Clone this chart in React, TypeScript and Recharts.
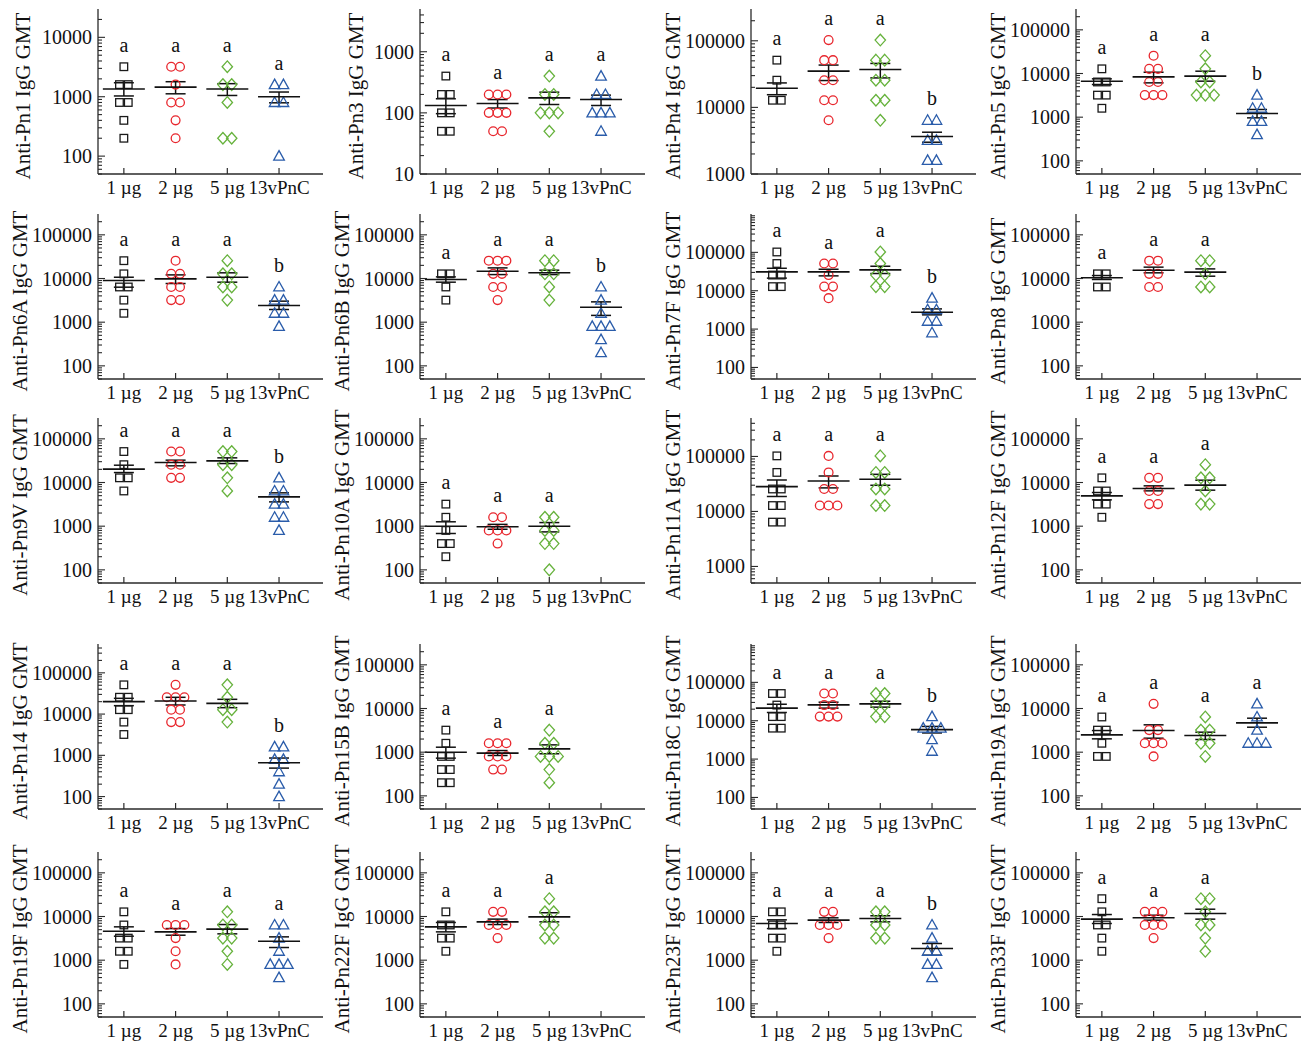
import React from 'react';
import { ScatterChart, Scatter, XAxis, YAxis, ErrorBar } from 'recharts';

// ---------- categories & styling ----------
const groupLabels = ['1 µg', '2 µg', '5 µg', '13vPnC'];
const groupColors = ['#1a1a1a', '#e8262d', '#66b23c', '#2a5caa'];
const groupShapes = ['square', 'circle', 'diamond', 'triangle'];

// ---------- data (titers) ----------
const pn1Titers = [[3200, 1600, 1600, 800, 800, 400, 200], [3200, 3200, 1600, 800, 800, 400, 200], [3200, 1600, 1600, 800, 200, 200], [1600, 1600, 800, 800, 100]];
const pn1Means = [1350, 1450, 1350, 1000];
const pn1SeLow = [1030, 1120, 1050, 790];
const pn1SeHigh = [1720, 1790, 1660, 1200];
const pn1Letters = ['a', 'a', 'a', 'a'];
const pn1Domain = [50, 30000];
const pn1Ticks = [100, 1000, 10000];

const pn3Titers = [[400, 200, 200, 100, 100, 50, 50], [200, 200, 200, 100, 100, 100, 50, 50], [400, 200, 200, 100, 100, 100, 50], [400, 200, 200, 100, 100, 100, 50]];
const pn3Means = [132, 142, 176, 165];
const pn3SeLow = [97, 120, 137, 132];
const pn3SeHigh = [170, 165, 218, 195];
const pn3Letters = ['a', 'a', 'a', 'a'];
const pn3Domain = [10, 5000];
const pn3Ticks = [10, 100, 1000];

const pn4Titers = [[51200, 25600, 12800, 12800], [102400, 51200, 51200, 25600, 25600, 12800, 12800, 6400], [102400, 51200, 51200, 25600, 25600, 12800, 12800, 6400], [6400, 6400, 3200, 3200, 1600, 1600]];
const pn4Means = [19400, 35000, 37000, 3650];
const pn4SeLow = [15500, 25300, 27700, 3000];
const pn4SeHigh = [23300, 43200, 45700, 4240];
const pn4Letters = ['a', 'a', 'a', 'b'];
const pn4Domain = [1000, 300000];
const pn4Ticks = [1000, 10000, 100000];

const pn5Titers = [[12800, 6400, 6400, 3200, 3200, 1600], [25600, 12800, 12800, 6400, 6400, 3200, 3200, 3200], [25600, 12800, 6400, 6400, 3200, 3200, 3200], [3200, 1600, 1600, 800, 800, 400]];
const pn5Means = [6670, 8390, 8690, 1210];
const pn5SeLow = [5600, 6110, 6680, 965];
const pn5SeHigh = [7550, 10700, 11300, 1500];
const pn5Letters = ['a', 'a', 'a', 'b'];
const pn5Domain = [50, 300000];
const pn5Ticks = [100, 1000, 10000, 100000];

const pn6ATiters = [[25600, 12800, 6400, 6400, 3200, 1600], [25600, 12800, 12800, 6400, 6400, 3200, 3200], [25600, 12800, 12800, 6400, 6400, 3200], [6400, 3200, 3200, 1600, 1600, 800]];
const pn6AMeans = [9000, 9800, 10700, 2410];
const pn6ASeLow = [6330, 7680, 8240, 1950];
const pn6ASeHigh = [10700, 12100, 13500, 3030];
const pn6ALetters = ['a', 'a', 'a', 'b'];
const pn6ADomain = [50, 300000];
const pn6ATicks = [100, 1000, 10000, 100000];

const pn6BTiters = [[12800, 12800, 6400, 3200], [25600, 25600, 25600, 12800, 12800, 6400, 6400, 3200], [25600, 25600, 12800, 12800, 6400, 3200], [6400, 3200, 1600, 800, 800, 800, 400, 200]];
const pn6BMeans = [9500, 14700, 13500, 2200];
const pn6BSeLow = [8240, 12300, 12300, 1430];
const pn6BSeHigh = [10900, 17500, 15500, 2920];
const pn6BLetters = ['a', 'a', 'a', 'b'];
const pn6BDomain = [50, 300000];
const pn6BTicks = [100, 1000, 10000, 100000];

const pn7FTiters = [[102400, 51200, 25600, 25600, 12800, 12800], [51200, 51200, 25600, 12800, 12800, 6400], [102400, 51200, 25600, 25600, 12800, 12800], [6400, 3200, 3200, 1600, 1600, 800]];
const pn7FMeans = [31000, 31000, 35000, 2750];
const pn7FSeLow = [21300, 24400, 28100, 2350];
const pn7FSeHigh = [38500, 36300, 43500, 3360];
const pn7FLetters = ['a', 'a', 'a', 'b'];
const pn7FDomain = [50, 1000000];
const pn7FTicks = [100, 1000, 10000, 100000];

const pn8Titers = [[12800, 12800, 6400, 6400], [25600, 25600, 12800, 12800, 6400, 6400], [25600, 25600, 12800, 6400, 6400]];
const pn8Means = [10400, 15500, 14000];
const pn8SeLow = [9500, 13500, 11300];
const pn8SeHigh = [11700, 18200, 16600];
const pn8Letters = ['a', 'a', 'a'];
const pn8Domain = [50, 300000];
const pn8Ticks = [100, 1000, 10000, 100000];

const pn9VTiters = [[51200, 25600, 12800, 12800, 6400], [51200, 51200, 25600, 25600, 12800, 12800], [51200, 51200, 25600, 25600, 12800, 6400], [12800, 6400, 6400, 3200, 3200, 1600, 1600, 800]];
const pn9VMeans = [20200, 28700, 31300, 4700];
const pn9VSeLow = [16900, 24100, 27200, 3600];
const pn9VSeHigh = [24900, 32500, 36700, 5800];
const pn9VLetters = ['a', 'a', 'a', 'b'];
const pn9VDomain = [50, 300000];
const pn9VTicks = [100, 1000, 10000, 100000];

const pn10ATiters = [[3200, 1600, 800, 400, 400, 200], [1600, 1600, 800, 800, 800, 400], [1600, 1600, 800, 800, 400, 400, 100]];
const pn10AMeans = [1000, 970, 1000];
const pn10ASeLow = [680, 850, 740];
const pn10ASeHigh = [1260, 1100, 1210];
const pn10ALetters = ['a', 'a', 'a'];
const pn10ADomain = [50, 300000];
const pn10ATicks = [100, 1000, 10000, 100000];

const pn11ATiters = [[102400, 51200, 25600, 25600, 12800, 12800, 6400, 6400], [102400, 51200, 25600, 25600, 12800, 12800, 12800], [102400, 51200, 51200, 25600, 25600, 12800, 12800]];
const pn11AMeans = [28300, 35800, 38400];
const pn11ASeLow = [18700, 26800, 29900];
const pn11ASeHigh = [37300, 44100, 47300];
const pn11ALetters = ['a', 'a', 'a'];
const pn11ADomain = [500, 500000];
const pn11ATicks = [1000, 10000, 100000];

const pn12FTiters = [[12800, 6400, 6400, 3200, 3200, 1600], [12800, 12800, 6400, 6400, 3200, 3200], [25600, 12800, 12800, 6400, 3200, 3200]];
const pn12FMeans = [4950, 7290, 8690];
const pn12FSeLow = [4010, 6440, 6680];
const pn12FSeHigh = [5900, 8390, 11300];
const pn12FLetters = ['a', 'a', 'a'];
const pn12FDomain = [50, 300000];
const pn12FTicks = [100, 1000, 10000, 100000];

const pn14Titers = [[51200, 25600, 25600, 12800, 12800, 6400, 3200], [51200, 25600, 25600, 25600, 12800, 12800, 6400, 6400], [51200, 25600, 12800, 12800, 6400], [1600, 1600, 800, 800, 400, 200, 100]];
const pn14Means = [20000, 20700, 18200, 660];
const pn14SeLow = [16000, 16600, 14300, 490];
const pn14SeHigh = [24100, 25500, 22800, 860];
const pn14Letters = ['a', 'a', 'a', 'b'];
const pn14Domain = [50, 500000];
const pn14Ticks = [100, 1000, 10000, 100000];

const pn15BTiters = [[3200, 1600, 800, 800, 400, 400, 200, 200], [1600, 1600, 1600, 800, 800, 800, 400, 400], [3200, 1600, 1600, 800, 800, 800, 400, 200]];
const pn15BMeans = [1000, 950, 1190];
const pn15BSeLow = [730, 840, 920];
const pn15BSeHigh = [1300, 1090, 1470];
const pn15BLetters = ['a', 'a', 'a'];
const pn15BDomain = [50, 300000];
const pn15BTicks = [100, 1000, 10000, 100000];

const pn18CTiters = [[51200, 51200, 25600, 12800, 12800, 6400, 6400], [51200, 51200, 25600, 25600, 12800, 12800, 12800], [51200, 51200, 25600, 25600, 12800, 12800], [12800, 6400, 6400, 6400, 3200, 1600]];
const pn18CMeans = [21300, 25900, 27500, 5850];
const pn18CSeLow = [16400, 21300, 22600, 4800];
const pn18CSeHigh = [26900, 30400, 32200, 7100];
const pn18CLetters = ['a', 'a', 'a', 'b'];
const pn18CDomain = [50, 1000000];
const pn18CTicks = [100, 1000, 10000, 100000];

const pn19ATiters = [[6400, 3200, 3200, 1600, 800, 800], [12800, 3200, 3200, 1600, 1600, 1600, 800], [6400, 3200, 3200, 1600, 1600, 800], [12800, 6400, 3200, 1600, 1600, 1600]];
const pn19AMeans = [2490, 3130, 2410, 4690];
const pn19ASeLow = [2020, 2090, 1950, 3730];
const pn19ASeHigh = [3130, 4230, 2870, 6000];
const pn19ALetters = ['a', 'a', 'a', 'a'];
const pn19ADomain = [50, 300000];
const pn19ATicks = [100, 1000, 10000, 100000];

const pn19FTiters = [[12800, 6400, 3200, 3200, 1600, 1600, 800], [6400, 6400, 6400, 3200, 1600, 800], [12800, 6400, 6400, 3200, 3200, 1600, 800], [6400, 6400, 3200, 1600, 800, 800, 800, 400]];
const pn19FMeans = [4610, 4450, 5130, 2720];
const pn19FSeLow = [3540, 3730, 4010, 1950];
const pn19FSeHigh = [5800, 5300, 6550, 3420];
const pn19FLetters = ['a', 'a', 'a', 'a'];
const pn19FDomain = [50, 300000];
const pn19FTicks = [100, 1000, 10000, 100000];

const pn22FTiters = [[12800, 6400, 6400, 3200, 3200, 1600], [12800, 12800, 6400, 6400, 6400, 3200], [25600, 12800, 12800, 6400, 6400, 3200, 3200]];
const pn22FMeans = [5800, 7550, 9830];
const pn22FSeLow = [4450, 6550, 7550];
const pn22FSeHigh = [7300, 8720, 12200];
const pn22FLetters = ['a', 'a', 'a'];
const pn22FDomain = [50, 300000];
const pn22FTicks = [100, 1000, 10000, 100000];

const pn23FTiters = [[12800, 12800, 6400, 6400, 3200, 3200, 1600], [12800, 12800, 6400, 6400, 6400, 3200], [12800, 12800, 6400, 6400, 3200, 3200], [6400, 3200, 1600, 1600, 800, 800, 400]];
const pn23FMeans = [6920, 8250, 9000, 1850];
const pn23FSeLow = [5300, 7300, 7550, 1300];
const pn23FSeHigh = [8390, 9330, 10400, 2410];
const pn23FLetters = ['a', 'a', 'a', 'b'];
const pn23FDomain = [50, 300000];
const pn23FTicks = [100, 1000, 10000, 100000];

const pn33FTiters = [[25600, 12800, 6400, 6400, 3200, 1600], [12800, 12800, 12800, 6400, 6400, 6400, 3200], [25600, 25600, 12800, 6400, 6400, 3200, 1600]];
const pn33FMeans = [8700, 9330, 11700];
const pn33FSeLow = [6920, 8250, 8700];
const pn33FSeHigh = [11100, 10700, 14700];
const pn33FLetters = ['a', 'a', 'a'];
const pn33FDomain = [50, 300000];
const pn33FTicks = [100, 1000, 10000, 100000];

const panels = [
  { name: 'Pn1', titers: pn1Titers, means: pn1Means, seLow: pn1SeLow, seHigh: pn1SeHigh, letters: pn1Letters, domain: pn1Domain, ticks: pn1Ticks },
  { name: 'Pn3', titers: pn3Titers, means: pn3Means, seLow: pn3SeLow, seHigh: pn3SeHigh, letters: pn3Letters, domain: pn3Domain, ticks: pn3Ticks },
  { name: 'Pn4', titers: pn4Titers, means: pn4Means, seLow: pn4SeLow, seHigh: pn4SeHigh, letters: pn4Letters, domain: pn4Domain, ticks: pn4Ticks },
  { name: 'Pn5', titers: pn5Titers, means: pn5Means, seLow: pn5SeLow, seHigh: pn5SeHigh, letters: pn5Letters, domain: pn5Domain, ticks: pn5Ticks },
  { name: 'Pn6A', titers: pn6ATiters, means: pn6AMeans, seLow: pn6ASeLow, seHigh: pn6ASeHigh, letters: pn6ALetters, domain: pn6ADomain, ticks: pn6ATicks },
  { name: 'Pn6B', titers: pn6BTiters, means: pn6BMeans, seLow: pn6BSeLow, seHigh: pn6BSeHigh, letters: pn6BLetters, domain: pn6BDomain, ticks: pn6BTicks },
  { name: 'Pn7F', titers: pn7FTiters, means: pn7FMeans, seLow: pn7FSeLow, seHigh: pn7FSeHigh, letters: pn7FLetters, domain: pn7FDomain, ticks: pn7FTicks },
  { name: 'Pn8', titers: pn8Titers, means: pn8Means, seLow: pn8SeLow, seHigh: pn8SeHigh, letters: pn8Letters, domain: pn8Domain, ticks: pn8Ticks },
  { name: 'Pn9V', titers: pn9VTiters, means: pn9VMeans, seLow: pn9VSeLow, seHigh: pn9VSeHigh, letters: pn9VLetters, domain: pn9VDomain, ticks: pn9VTicks },
  { name: 'Pn10A', titers: pn10ATiters, means: pn10AMeans, seLow: pn10ASeLow, seHigh: pn10ASeHigh, letters: pn10ALetters, domain: pn10ADomain, ticks: pn10ATicks },
  { name: 'Pn11A', titers: pn11ATiters, means: pn11AMeans, seLow: pn11ASeLow, seHigh: pn11ASeHigh, letters: pn11ALetters, domain: pn11ADomain, ticks: pn11ATicks },
  { name: 'Pn12F', titers: pn12FTiters, means: pn12FMeans, seLow: pn12FSeLow, seHigh: pn12FSeHigh, letters: pn12FLetters, domain: pn12FDomain, ticks: pn12FTicks },
  { name: 'Pn14', titers: pn14Titers, means: pn14Means, seLow: pn14SeLow, seHigh: pn14SeHigh, letters: pn14Letters, domain: pn14Domain, ticks: pn14Ticks },
  { name: 'Pn15B', titers: pn15BTiters, means: pn15BMeans, seLow: pn15BSeLow, seHigh: pn15BSeHigh, letters: pn15BLetters, domain: pn15BDomain, ticks: pn15BTicks },
  { name: 'Pn18C', titers: pn18CTiters, means: pn18CMeans, seLow: pn18CSeLow, seHigh: pn18CSeHigh, letters: pn18CLetters, domain: pn18CDomain, ticks: pn18CTicks },
  { name: 'Pn19A', titers: pn19ATiters, means: pn19AMeans, seLow: pn19ASeLow, seHigh: pn19ASeHigh, letters: pn19ALetters, domain: pn19ADomain, ticks: pn19ATicks },
  { name: 'Pn19F', titers: pn19FTiters, means: pn19FMeans, seLow: pn19FSeLow, seHigh: pn19FSeHigh, letters: pn19FLetters, domain: pn19FDomain, ticks: pn19FTicks },
  { name: 'Pn22F', titers: pn22FTiters, means: pn22FMeans, seLow: pn22FSeLow, seHigh: pn22FSeHigh, letters: pn22FLetters, domain: pn22FDomain, ticks: pn22FTicks },
  { name: 'Pn23F', titers: pn23FTiters, means: pn23FMeans, seLow: pn23FSeLow, seHigh: pn23FSeHigh, letters: pn23FLetters, domain: pn23FDomain, ticks: pn23FTicks },
  { name: 'Pn33F', titers: pn33FTiters, means: pn33FMeans, seLow: pn33FSeLow, seHigh: pn33FSeHigh, letters: pn33FLetters, domain: pn33FDomain, ticks: pn33FTicks },
];

// ---------- layout / style constants ----------
const FONT = '"Liberation Serif", "Times New Roman", serif';
const AXIS = '#2a2a2a';
const TEXT = '#111';
const COL_X = [98, 420, 751, 1076];
const ROW_TOP = [9, 214, 418, 644, 852];
const AXIS_W = 85;
const M_TOP = 10;
const M_RIGHT = 15;
const M_BOTTOM = 5;
const XAXIS_H = 30;
const PLOT_W = 225;
const PLOT_H = 165;
const CHART_W = AXIS_W + PLOT_W + M_RIGHT;
const CHART_H = M_TOP + PLOT_H + XAXIS_H + M_BOTTOM;
const SPREAD = 0.17;

function buildPoints(values: number[], gi: number) {
  const counts: Record<number, number> = {};
  values.forEach((v) => { counts[v] = (counts[v] || 0) + 1; });
  const seen: Record<number, number> = {};
  return values.map((v) => {
    const k = counts[v];
    const j = seen[v] || 0;
    seen[v] = j + 1;
    return { x: gi + 1 + (j - (k - 1) / 2) * SPREAD, y: v };
  });
}

function buildLogTicks(domain: number[]) {
  const [lo, hi] = domain;
  const out: number[] = [];
  for (let e = Math.floor(Math.log10(lo)); e <= Math.ceil(Math.log10(hi)); e++) {
    for (let m = 1; m <= 9; m++) {
      const v = m * Math.pow(10, e);
      if (v >= lo - 1e-9 && v < hi) out.push(v);
    }
  }
  return out;
}

function makeShape(gi: number) {
  const color = groupColors[gi];
  const kind = groupShapes[gi];
  return (p: any) => {
    const { cx, cy } = p;
    if (cx == null || cy == null) return <g />;
    const common = { fill: 'none', stroke: color, strokeWidth: 1.3 };
    if (kind === 'square') return <rect x={cx - 3.8} y={cy - 3.8} width={7.6} height={7.6} {...common} />;
    if (kind === 'circle') return <circle cx={cx} cy={cy} r={4.4} {...common} />;
    if (kind === 'diamond') return <polygon points={`${cx},${cy - 5.8} ${cx + 5.2},${cy} ${cx},${cy + 5.8} ${cx - 5.2},${cy}`} {...common} />;
    return <polygon points={`${cx},${cy - 5.5} ${cx + 5.3},${cy + 4} ${cx - 5.3},${cy + 4}`} {...common} />;
  };
}

const MeanShape = (p: any) => {
  const { cx, cy } = p;
  if (cx == null || cy == null) return <g />;
  return <line x1={cx - 21} x2={cx + 21} y1={cy} y2={cy} stroke="#111" strokeWidth={1.6} />;
};

const LetterShape = (p: any) => {
  const { cx, cy, payload } = p;
  if (cx == null || cy == null) return <g />;
  return (
    <text x={cx} y={cy - 15} textAnchor="middle" fontSize={20} fontFamily={FONT} fill={TEXT}>
      {payload.letter}
    </text>
  );
};

const renderXTick = (props: any) => {
  const { x, y, payload } = props;
  return (
    <g>
      <line x1={x} y1={y} x2={x} y2={y - 6} stroke={AXIS} strokeWidth={1.2} />
      <text x={x} y={y + 20} textAnchor="middle" fontSize={19} fontFamily={FONT} fill={TEXT}>
        {groupLabels[payload.value - 1]}
      </text>
    </g>
  );
};

const renderYTick = (props: any, majors: number[]) => {
  const { x, y, payload } = props;
  const v = payload.value;
  const isMajor = majors.some((m) => Math.abs(m - v) < 1e-6);
  return (
    <g>
      <line x1={x} y1={y} x2={x + (isMajor ? 7 : 4)} y2={y} stroke={AXIS} strokeWidth={1.1} />
      {isMajor && (
        <text x={x - 6} y={y + 7} textAnchor="end" fontSize={20} fontFamily={FONT} fill={TEXT}>
          {String(v)}
        </text>
      )}
    </g>
  );
};

const LABEL_OFFSET: Record<number, number> = { 4: 64, 5: 75, 6: 78 };

function Panel({ panel, index }: { panel: any; index: number }) {
  const r = Math.floor(index / 4);
  const c = index % 4;
  const x0 = COL_X[c];
  const top = ROW_TOP[r];
  const allTicks = buildLogTicks(panel.domain);
  const maxLabelLen = String(Math.max(...panel.ticks)).length;
  const labelOffset = LABEL_OFFSET[maxLabelLen] || 78;

  const meanData = panel.means.map((m: number, gi: number) => ({
    x: gi + 1,
    y: m,
    err: [m - panel.seLow[gi], panel.seHigh[gi] - m],
  }));
  const letterData = panel.letters.map((l: string, gi: number) => ({
    x: gi + 1,
    y: Math.max(...panel.titers[gi]),
    letter: l,
  }));

  return (
    <>
      <div style={{ position: 'absolute', left: x0 - AXIS_W, top: top - M_TOP }}>
        <ScatterChart width={CHART_W} height={CHART_H} margin={{ top: M_TOP, right: M_RIGHT, bottom: M_BOTTOM, left: 0 }}>
          <XAxis
            type="number"
            dataKey="x"
            domain={[0.5, 4.85]}
            allowDataOverflow
            ticks={[1, 2, 3, 4]}
            interval={0}
            height={XAXIS_H}
            tickSize={0}
            tickMargin={0}
            tickLine={false}
            axisLine={{ stroke: AXIS, strokeWidth: 1.3 }}
            tick={renderXTick}
          />
          <YAxis
            type="number"
            dataKey="y"
            scale="log"
            domain={panel.domain}
            allowDataOverflow
            ticks={allTicks}
            interval={0}
            width={AXIS_W}
            tickSize={0}
            tickMargin={0}
            tickLine={false}
            axisLine={{ stroke: AXIS, strokeWidth: 1.3 }}
            tick={(p: any) => renderYTick(p, panel.ticks)}
          />
          {panel.titers.map((vals: number[], gi: number) => (
            <Scatter
              key={`g${gi}`}
              data={buildPoints(vals, gi)}
              shape={makeShape(gi)}
              isAnimationActive={false}
            />
          ))}
          <Scatter data={letterData} shape={LetterShape} isAnimationActive={false} />
          <Scatter data={meanData} shape={MeanShape} isAnimationActive={false}>
            <ErrorBar dataKey="err" direction="y" width={10} stroke="#111" strokeWidth={1.5} isAnimationActive={false} />
          </Scatter>
        </ScatterChart>
      </div>
      <div
        style={{
          position: 'absolute',
          left: x0 - labelOffset,
          top: top + 87,
          transform: 'translate(-50%, -50%) rotate(-90deg)',
          whiteSpace: 'nowrap',
          fontFamily: FONT,
          fontSize: 21,
          lineHeight: 1,
          color: TEXT,
        }}
      >
        {`Anti-${panel.name} IgG GMT`}
      </div>
    </>
  );
}

export default function App() {
  return (
    <div
      style={{
        position: 'absolute',
        left: 0,
        top: 0,
        width: 1303,
        height: 1043,
        overflow: 'hidden',
        background: '#fff',
        fontFamily: FONT,
      }}
    >
      {panels.map((p, i) => (
        <Panel key={p.name} panel={p} index={i} />
      ))}
    </div>
  );
}
